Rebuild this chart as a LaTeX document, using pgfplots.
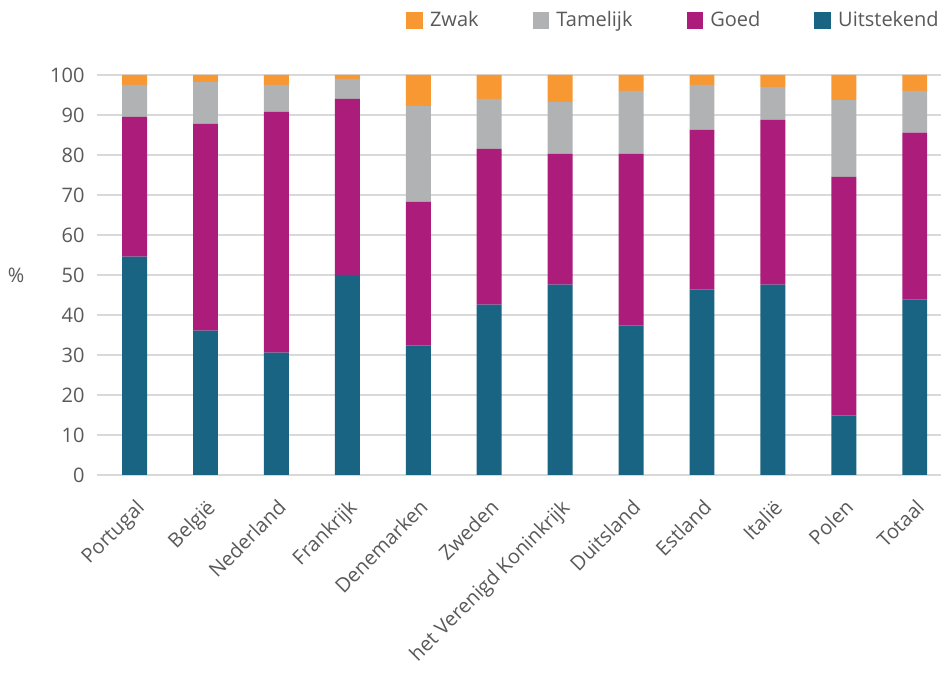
\documentclass[border=0pt]{standalone}
\usepackage{pgfplots}
\pgfplotsset{compat=1.18}
\usepackage{pgfplotstable}
\usepackage{fontspec}
\setmainfont{Open Sans}
\definecolor{zwak}{RGB}{248,152,51}
\definecolor{tam}{RGB}{176,178,179}
\definecolor{goed}{RGB}{171,28,123}
\definecolor{uit}{RGB}{25,100,130}
\definecolor{txt}{RGB}{89,89,89}
\definecolor{grd}{RGB}{217,217,217}
\pgfplotstableread{
x U G T Z
0 54.6 34.9 8.0 2.5
1 36.1 51.7 10.5 1.7
2 30.6 60.2 6.7 2.5
3 50.0 44.0 5.0 1.0
4 32.4 35.9 24.0 7.7
5 42.6 38.9 12.5 6.0
6 47.6 32.7 13.0 6.7
7 37.4 42.9 15.7 4.0
8 46.4 39.9 11.2 2.5
9 47.6 41.2 8.2 3.0
10 14.9 59.6 19.3 6.2
11 43.9 41.7 10.4 4.0
}\data
\begin{document}
\begin{tikzpicture}
\path[use as bounding box] (-48.5pt,-104.5pt) rectangle (425.5pt,237.5pt);
\begin{axis}[
  at={(0,0)}, anchor=south west,
  scale only axis, width=422pt, height=200pt,
  ybar stacked, bar width=0.352,
  xmin=-0.53, xmax=11.37,
  ymin=0, ymax=100,
  ytick={0,10,...,100},
  xtick={0,...,11},
  xticklabels={Portugal,België,Nederland,Frankrijk,Denemarken,Zweden,het Verenigd Koninkrijk,Duitsland,Estland,Italië,Polen,Totaal},
  font=\fontsize{10}{12}\selectfont,
  /pgf/number format/assume math mode=true,
  ticklabel style={text=txt, font=\fontsize{10}{12}\selectfont},
  yticklabel style={xshift=-2.7pt},
  xticklabel style={xshift=0pt, yshift=-10pt, rotate=45, anchor=north east, inner sep=1pt},
  major tick length=0pt,
  axis line style={draw=none},
  ymajorgrids, grid style={draw=grd, line width=1.1pt},
  ylabel={\%}, ylabel style={rotate=-90, text=txt, at={(rel axis cs:0,0.5)}, anchor=center, xshift=-40.5pt},
  legend columns=4,
  legend style={draw=none, fill=none, at={(rel axis cs:1.0,1.0)}, anchor=south east, yshift=18.5pt, xshift=4pt,
    /tikz/every odd column/.append style={column sep=1.5pt},
    /tikz/every even column/.append style={column sep=25pt}, text=txt, font=\fontsize{10}{12}\selectfont},
  legend image code/.code={\fill[#1] (0pt,-4.2pt) rectangle (8.4pt,4.2pt);},
]
\addlegendimage{fill=zwak, draw=none}
\addlegendimage{fill=tam, draw=none}
\addlegendimage{fill=goed, draw=none}
\addlegendimage{fill=uit, draw=none}
\legend{Zwak,Tamelijk,Goed,Uitstekend}
\addplot[fill=uit, draw=none, forget plot] table[x=x,y=U]{\data};
\addplot[fill=goed, draw=none, forget plot] table[x=x,y=G]{\data};
\addplot[fill=tam, draw=none, forget plot] table[x=x,y=T]{\data};
\addplot[fill=zwak, draw=none, forget plot] table[x=x,y=Z]{\data};
\end{axis}
\end{tikzpicture}
\end{document}
